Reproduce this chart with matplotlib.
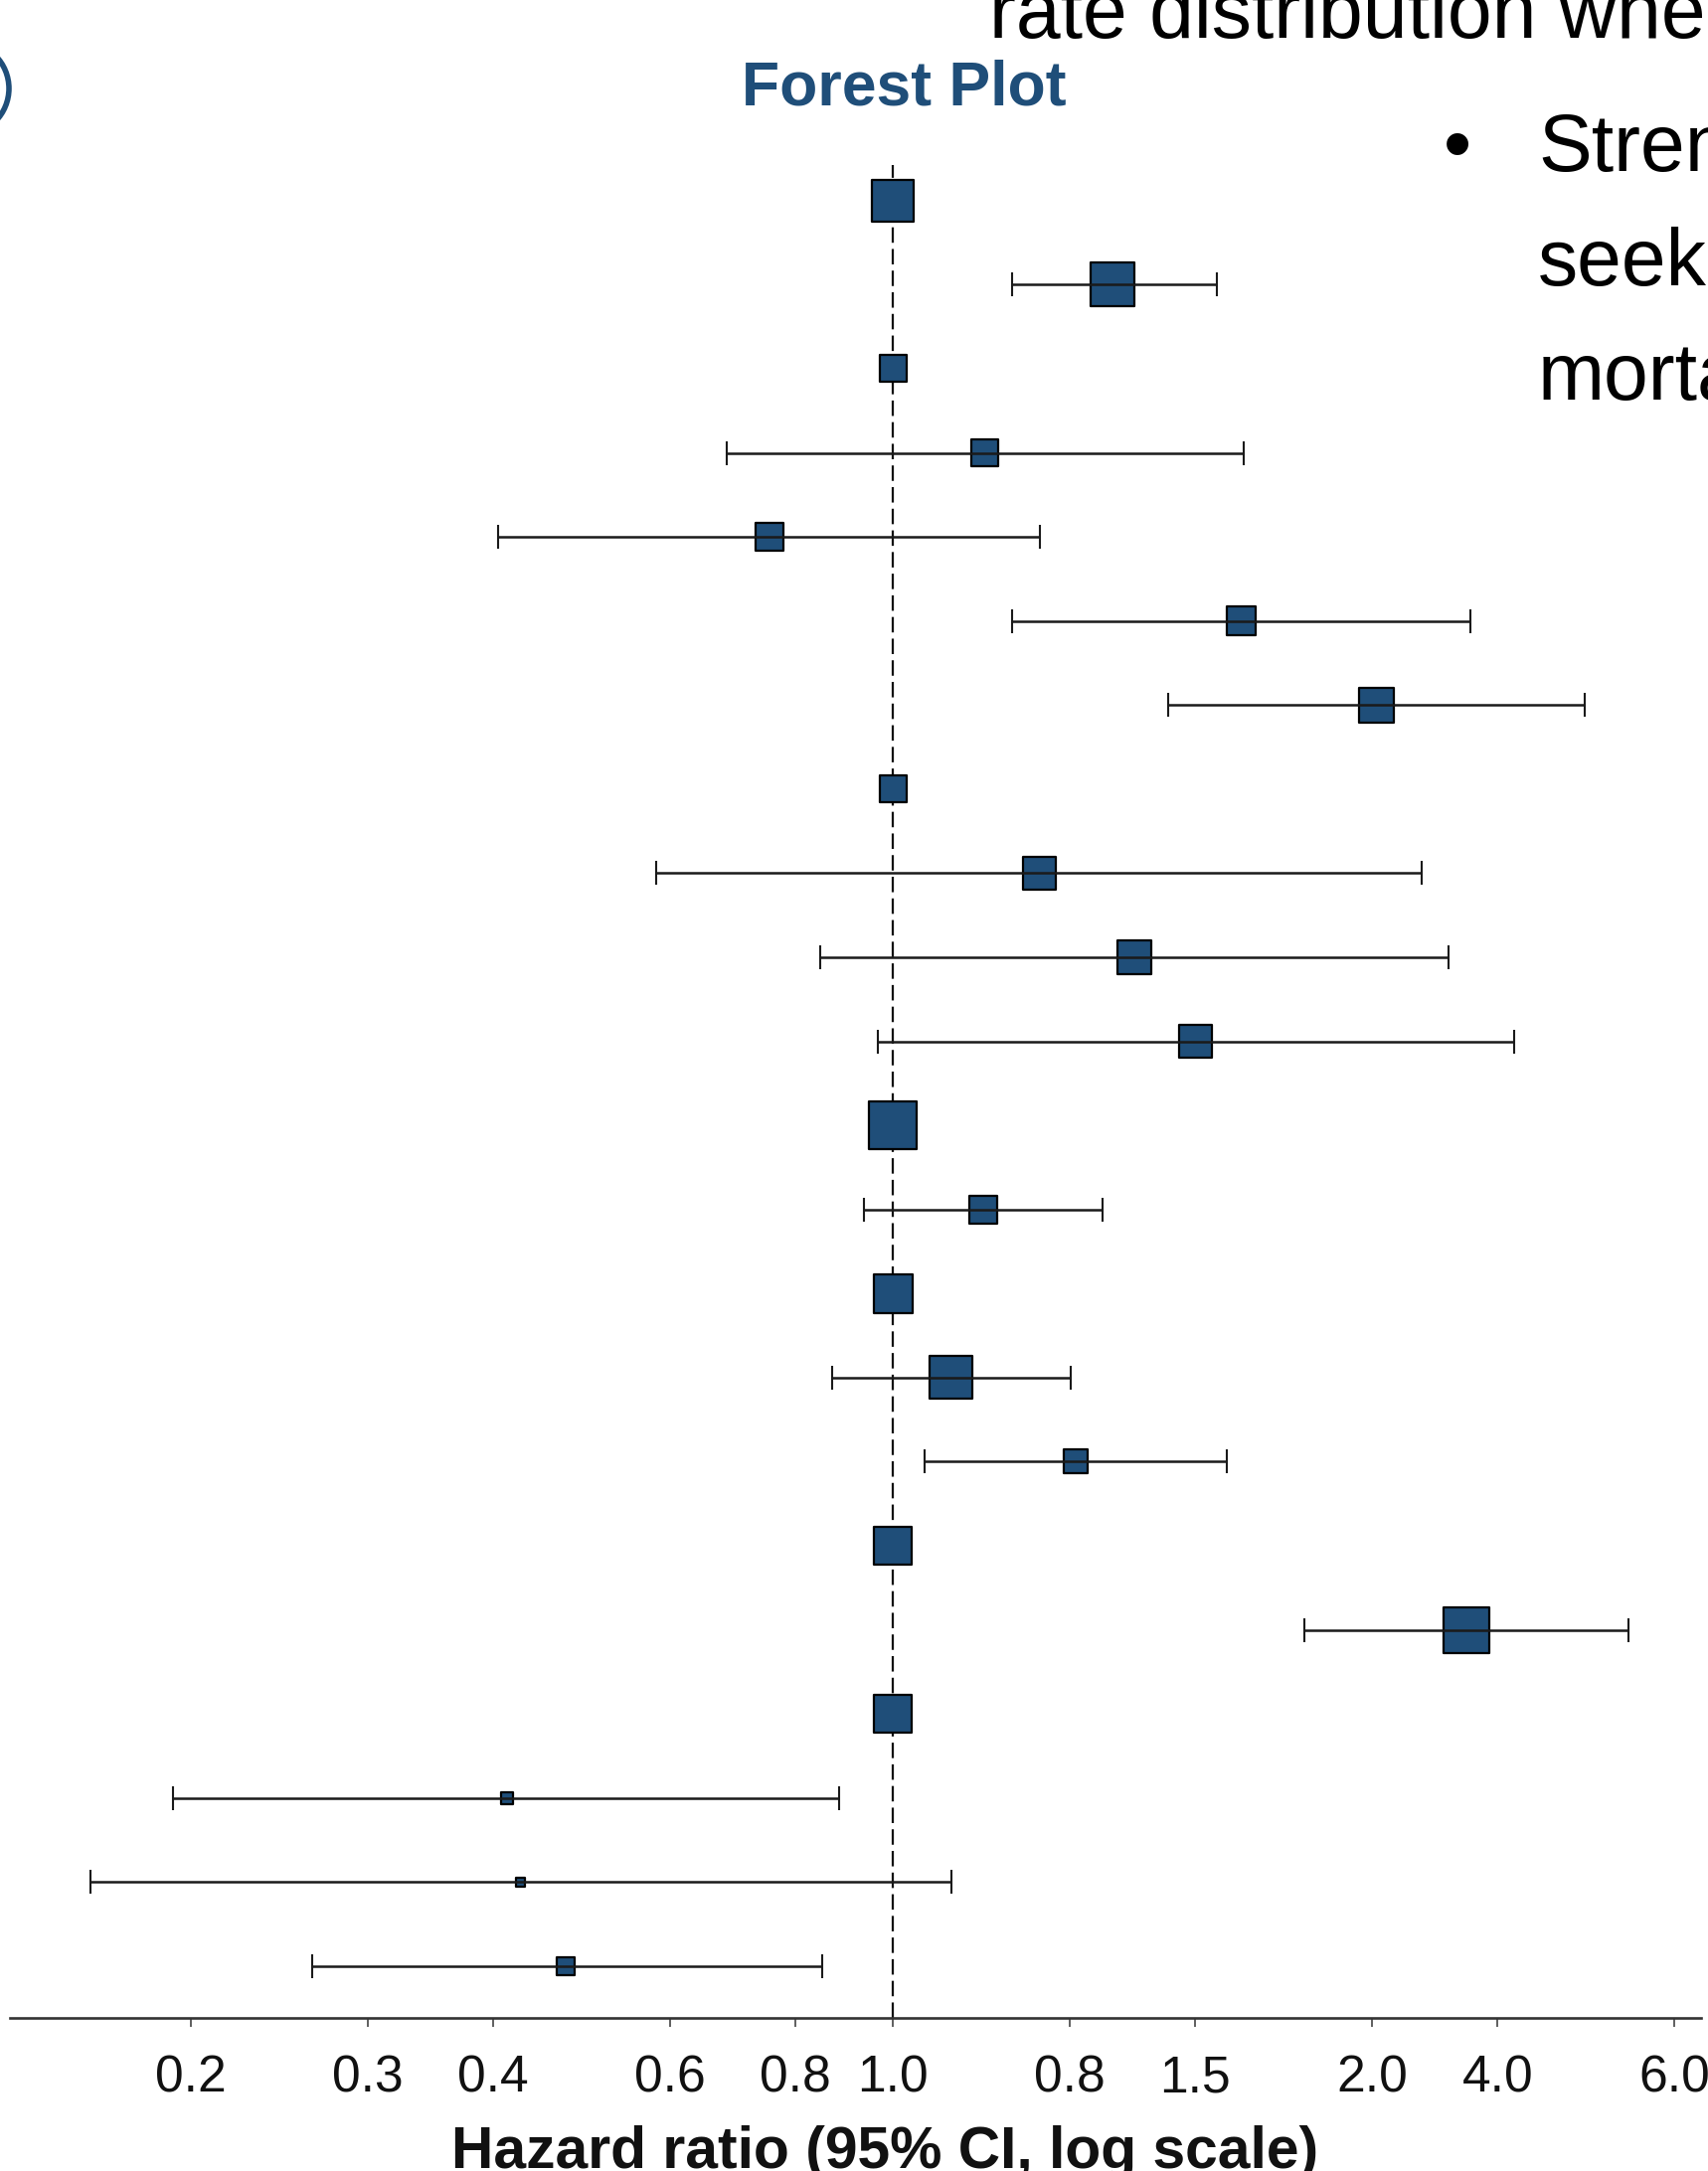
import numpy as np
import matplotlib.pyplot as plt
from matplotlib.patches import Circle
from matplotlib.ticker import NullLocator, NullFormatter

plt.rcParams['font.family'] = ['Liberation Sans', 'DejaVu Sans']

# Hazard ratios with 95% CI, top row first (nan = reference level, no CI)
hr = [1.0, 1.656, 1.0, 1.234, 0.753, 2.223, 3.028, 1.0, 1.399, 1.739, 1.999,
      1.0, 1.230, 1.0, 1.143, 1.521, 1.0, 3.724, 1.0, 0.413, 0.426, 0.472]
ci_low = [np.nan, 1.313, np.nan, 0.684, 0.405, 1.313, 1.878, np.nan, 0.582, 0.846, 0.967,
          np.nan, 0.935, np.nan, 0.870, 1.075, np.nan, 2.569, np.nan, 0.192, 0.159, 0.264]
ci_high = [np.nan, 2.101, np.nan, 2.234, 1.400, 3.757, 4.880, np.nan, 3.358, 3.570, 4.150,
           np.nan, 1.616, np.nan, 1.503, 2.149, np.nan, 5.398, np.nan, 0.884, 1.143, 0.850]
# relative weight of each estimate (drives box size)
weights = [44, 46, 29, 29, 30, 31, 37.5, 29, 35.5, 35.5, 35,
           50, 30, 41, 45, 26, 40, 48, 40, 14, 11, 20]

tick_values = [0.2, 0.3, 0.4, 0.6, 0.8, 1.0, 1.5, 2.0, 3.0, 4.0, 6.0]
tick_labels = ['0.2', '0.3', '0.4', '0.6', '0.8', '1.0', '0.8', '1.5', '2.0', '4.0', '6.0']

blue = '#1f4e79'
W, H = 1718, 2184
dpi = 100

fig = plt.figure(figsize=(W / dpi, H / dpi), dpi=dpi)
ax = fig.add_axes([10 / W, (H - 2030) / H, 1701 / W, 1864 / H])

hr = np.array(hr)
lo = np.array(ci_low)
hi = np.array(ci_high)
y = np.arange(len(hr))
px_to_pt = 72 / dpi

# reference line at HR = 1
ax.axvline(1.0, color='#111111', lw=1.6, ls=(0, (7, 2.8)), zorder=1)

# boxes
side_pt = (np.array(weights) - 2) * px_to_pt
ax.scatter(hr, y, s=side_pt ** 2, marker='s', color=blue, edgecolors='black',
           linewidths=1.6, zorder=2)

# confidence intervals
has_ci = ~np.isnan(lo)
ax.errorbar(hr[has_ci], y[has_ci],
            xerr=[hr[has_ci] - lo[has_ci], hi[has_ci] - hr[has_ci]],
            fmt='none', ecolor='#1a1a1a', elinewidth=1.8, capsize=8.8,
            capthick=1.5, zorder=3)

ax.set_xscale('log')
ax.set_xlim(0.1322, 6.375)
ax.set_ylim(len(hr) - 1 + 0.615, -0.423)
ax.set_xticks(tick_values)
ax.set_xticklabels(tick_labels)
ax.xaxis.set_minor_locator(NullLocator())
ax.xaxis.set_minor_formatter(NullFormatter())
ax.set_yticks([])
ax.tick_params(axis='x', length=6.5, width=1.2, color='#444444',
               labelsize=37.2, pad=20, labelcolor='#111111')
for s in ['left', 'right', 'top']:
    ax.spines[s].set_visible(False)
ax.spines['bottom'].set_linewidth(1.9)
ax.spines['bottom'].set_color('#333333')

ax.set_xlabel('Hazard ratio (95% CI, log scale)', fontsize=42.3, fontweight='bold',
              color='#111111')
ax.xaxis.set_label_coords(0.5176, -0.0579)

# title
fig.text(909.5 / W, 1 - 106 / H, 'Forest Plot', ha='center', va='baseline',
         fontsize=45, fontweight='bold', color=blue)

# surrounding slide content (cropped)
fig.text(995 / W, 1 - 38 / H, 'rate distribution when', ha='left', va='baseline',
         fontsize=58, color='black')
fig.text(1466 / W, 1 - 172 / H, '\u2022', ha='center', va='baseline',
         fontsize=58, color='black')
for txt, yb in [('Strengthen', 172), ('seeking', 287), ('mortality', 402)]:
    fig.text(1547 / W, 1 - yb / H, txt, ha='left', va='baseline',
             fontsize=58, color='black')

fig.add_artist(Circle((-0.38, (H - 89) / dpi), 0.47, transform=fig.dpi_scale_trans,
                      fill=False, edgecolor=blue, lw=4.0))

fig.savefig('out.png', dpi=dpi)
